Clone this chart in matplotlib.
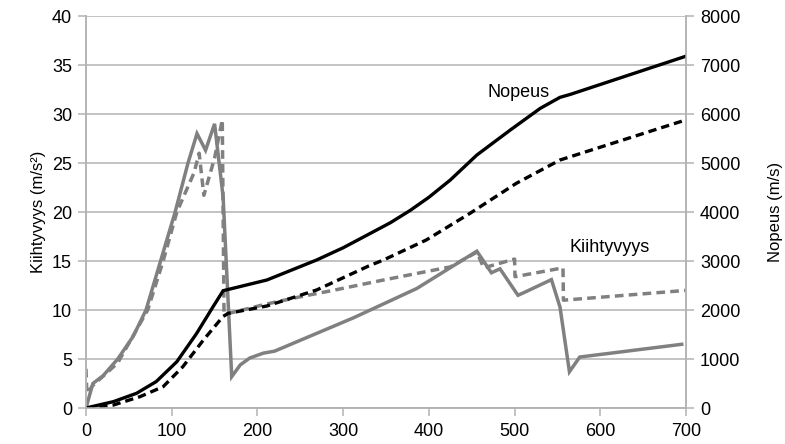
import matplotlib
matplotlib.use('Agg')
import matplotlib.pyplot as plt

# Fonts
plt.rcParams['font.family'] = ['Liberation Sans', 'DejaVu Sans']

# Acceleration, solid (m/s2)
acc_solid_t = [0, 8, 20, 37, 55, 70, 87, 104, 119, 129.5, 139.5, 150, 160, 170, 180,
               191, 207, 220, 312, 386, 456, 473, 483, 504, 514, 543, 553, 564, 576, 695]
acc_solid = [0, 2.5, 3.3, 5.0, 7.3, 10, 15, 20, 25, 28, 26.3, 29, 21.5, 3.2, 4.4,
             5.1, 5.6, 5.8, 9.2, 12.2, 16.0, 13.8, 14.2, 11.5, 11.9, 13.1, 10.3, 3.7, 5.2, 6.5]

# Acceleration, dashed (m/s2)
acc_dash_t = [0, 1, 8, 37, 72, 90, 106, 126, 132, 137.5, 150, 159, 161, 164, 210,
              250, 288, 347, 390, 425, 456, 464, 500, 500.5, 556.5, 557, 700]
acc_dash = [4.0, 1.5, 2.3, 4.6, 10, 15, 20, 24, 26, 21.7, 25.5, 29.4, 9.6, 9.6, 10.6,
            11.35, 12.0, 13.06, 13.8, 14.4, 15.9, 14.3, 15.2, 13.4, 14.3, 11.0, 12.0]

# Velocity, solid (m/s)
vel_solid_t = [0, 32, 59, 82, 106, 129, 148, 160, 211, 269, 300, 327, 355, 378, 400, 425, 456,
               495, 530, 553, 565, 700]
vel_solid = [0, 130, 300, 540, 945, 1520, 2060, 2394, 2612, 3020, 3270, 3520, 3780, 4030, 4300, 4653, 5163,
             5673, 6116, 6340, 6400, 7180]

# Velocity, dashed (m/s)
vel_dash_t = [0, 32, 63, 90, 113, 137, 160, 166, 211, 269, 330, 347, 397, 448,
              502, 553, 700]
vel_dash = [0, 61, 231, 435, 843, 1388, 1870, 1932, 2082, 2408, 2900, 3020, 3429, 3973,
            4585, 5061, 5880]

# Axis ticks
x_ticks = list(range(0, 701, 100))
acc_ticks = list(range(0, 41, 5))
vel_ticks = list(range(0, 8001, 1000))

grid_col = '#b3b3b3'
gray = '#808080'

fig = plt.figure(figsize=(7.85, 4.44), dpi=100)
ax1 = fig.add_axes([86 / 785, 1 - 408 / 444, 600 / 785, 392 / 444])
ax2 = ax1.twinx()

# Acceleration on left axis
ax1.plot(acc_solid_t, acc_solid, color=gray, lw=2.5, solid_joinstyle='miter')
ax1.plot(acc_dash_t, acc_dash, color=gray, lw=2.5, linestyle=(0, (2.5, 1.5)))

# Velocity on right axis
ax2.plot(vel_solid_t, vel_solid, color='black', lw=2.4)
ax2.plot(vel_dash_t, vel_dash, color='black', lw=2.4, linestyle=(0, (2.5, 1.5)))

ax1.set_xlim(0, 700)
ax1.set_ylim(0, 40)
ax2.set_ylim(0, 8000)
ax1.set_xticks(x_ticks)
ax1.set_yticks(acc_ticks)
ax2.set_yticks(vel_ticks)

ax1.yaxis.grid(True, color=grid_col, lw=1.1)
ax1.set_axisbelow(True)

for ax in (ax1, ax2):
    ax.spines['top'].set_visible(False)
    for side in ('left', 'right', 'bottom'):
        ax.spines[side].set_color(grid_col)
        ax.spines[side].set_linewidth(1.1)
    ax.tick_params(colors=grid_col, labelcolor='black', labelsize=13,
                   length=6, width=1.1, pad=4)

ax1.tick_params(axis='x', pad=5)
ax1.set_ylabel('Kiihtyvyys (m/s²)', fontsize=12, labelpad=4)
ax2.set_ylabel('Nopeus (m/s)', fontsize=12, labelpad=20)

# Series labels
ax1.text(505, 32.2, 'Nopeus', fontsize=13, ha='center', va='center')
ax1.text(611, 16.4, 'Kiihtyvyys', fontsize=13, ha='center', va='center')

fig.savefig('out.png', dpi=100)
